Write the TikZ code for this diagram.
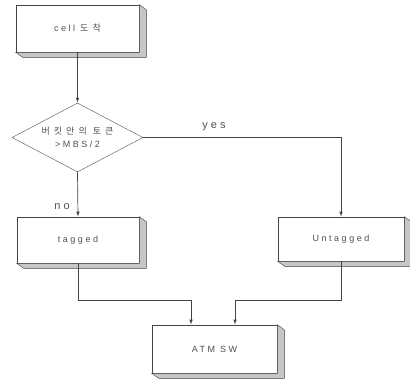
\documentclass[tikz,border=0pt]{standalone}
\usepackage{fontspec}
\setmainfont{Liberation Sans}[LetterSpace=28]
\newfontfamily\kr{Noto Sans CJK KR}[LetterSpace=45]
\usetikzlibrary{shapes.geometric,arrows.meta,calc}
\definecolor{ink}{HTML}{505050}
\definecolor{lin}{HTML}{444444}
\tikzset{
  box/.style={draw=lin, line width=0.6pt, fill=white, rectangle, inner sep=0pt,
    font=\fontsize{9}{10}\selectfont, text=ink},
  dia/.style={draw=lin!80, line width=0.5pt, shape=diamond, aspect=1.9, inner sep=0pt,
    font=\fontsize{9}{13}\selectfont, text=ink, align=center},
  con/.style={draw=lin, line width=0.7pt},
  arr/.style={con, -{Latex[length=5pt,width=3.5pt]}},
  lab/.style={font=\fontsize{11}{12}\selectfont, text=ink, inner sep=0pt},
  ext/.style={fill=gray!45, draw=lin, line width=0.4pt}
}
\newcommand{\extr}[1]{%
  \path[ext] (#1.south west) -- ++(7,5) -- ++($(#1.south east)-(#1.south west)$)
     -- ++($(#1.north east)-(#1.south east)$) -- (#1.north east) -- (#1.south east) -- cycle;}
\begin{document}
\begin{tikzpicture}[x=1pt,y=-1pt]
\useasboundingbox (0,0) rectangle (410,378);
\node[box, minimum width=123pt, minimum height=47pt] (cell) at (77.5,28.5) {cell {\kr 도착}};
\extr{cell}
\node[dia, minimum width=131pt, minimum height=69pt] (dec) at (77.5,137.5) {{\kr 버킷안의 토큰}\\>MBS/2};
\node[box, minimum width=122pt, minimum height=46pt] (tag) at (78,240) {tagged};
\extr{tag}
\node[box, minimum width=126pt, minimum height=44pt] (untag) at (341,239) {Untagged};
\extr{untag}
\node[box, minimum width=125pt, minimum height=48pt] (atm) at (214.5,349) {ATM SW};
\extr{atm}
\coordinate (c1) at (191,300);
\coordinate (c2) at (235,300);
\draw[arr] (cell.south) -- (dec.north);
\draw[arr] (dec.south) -- (tag.north);
\draw[arr] (dec.east) -| (untag.north);
\draw[arr] (tag.south) |- (c1) -- (atm.north -| c1);
\draw[arr] (untag.south) |- (c2) -- (atm.north -| c2);
\node[lab] (yes) at (214,127) {yes};
\node[lab] (no) at (62,207) {no};
\end{tikzpicture}
\end{document}
